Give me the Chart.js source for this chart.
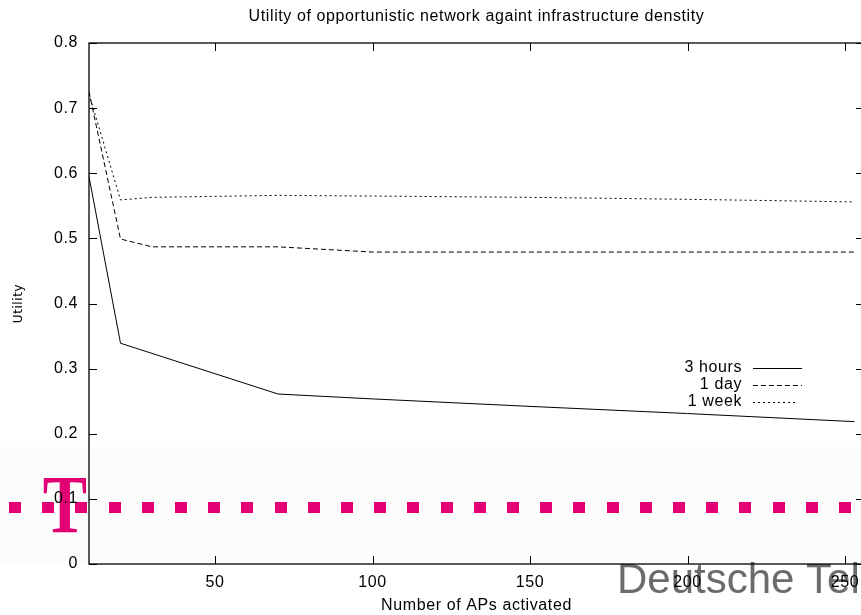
<!DOCTYPE html>
<html>
<head>
<meta charset="utf-8">
<script src="https://cdn.jsdelivr.net/npm/chart.js@4.4.1/dist/chart.umd.min.js"></script>
<style>
  html, body { margin: 0; padding: 0; background: #fff; overflow: hidden; }
  #wrap { width: 880px; height: 615px; }
</style>
</head>
<body>
<div id="wrap"><canvas id="utility" width="880" height="615"></canvas></div>
<script>
// values
var apsActivated = [10, 20, 30, 70, 100, 150, 200, 253];
var threeHours = [0.595, 0.339, null, 0.261, 0.2535, 0.242, 0.231, 0.2186];
var oneDay = [0.725, 0.499, 0.487, 0.487, 0.479, 0.479, 0.479, 0.479];
var oneWeek = [0.722, 0.559, 0.563, 0.566, 0.565, 0.563, 0.560, 0.556];
var xTicks = [50, 100, 150, 200, 250];
var yTicks = [0, 0.1, 0.2, 0.3, 0.4, 0.5, 0.6, 0.7, 0.8];

var titleText = 'Utility of opportunistic network againt infrastructure denstity';
var sansFont = '"Liberation Sans", Arial, sans-serif';
var magenta = '#e20074';
var spacing = '0.6px';

function points(ys) {
    return apsActivated.map(function (x, i) { return { x: x, y: ys[i] }; });
}

// gnuplot's helvetica comes out a little wider than ours
var textSpacing = {
    id: 'textSpacing',
    beforeInit: function (chart) { chart.ctx.letterSpacing = spacing; },
    beforeUpdate: function (chart) { chart.ctx.letterSpacing = spacing; }
};

// faint Deutsche Telekom banner behind the plot
var watermark = {
    id: 'watermark',
    beforeDraw: function (chart) {
        var ctx = chart.ctx;
        ctx.letterSpacing = spacing;
        ctx.save();
        ctx.fillStyle = '#fff';
        ctx.fillRect(0, 0, chart.width, chart.height);
        ctx.fillStyle = '#fcfcfc';
        ctx.fillRect(0, 447, chart.width, 115);
        ctx.fillStyle = magenta;
        for (var k = 0; k < 26; k++) {
            ctx.fillRect(Math.round(9 + 33.2 * k), 502, 12, 11);
        }
        ctx.letterSpacing = '0px';
        ctx.translate(65, 532);
        ctx.scale(0.8, 1);
        ctx.font = 'bold 83px "Liberation Serif", serif';
        ctx.textAlign = 'center';
        ctx.textBaseline = 'alphabetic';
        ctx.fillText('T', 0, 0);
        ctx.restore();

        ctx.save();
        ctx.letterSpacing = '0px';
        ctx.fillStyle = '#6b6b6b';
        ctx.font = '42px ' + sansFont;
        ctx.textBaseline = 'alphabetic';
        ctx.fillText('Deutsche Telekom', 617, 593);
        ctx.restore();
    }
};

// gnuplot style frame, inward ticks, title and key
var frame = {
    id: 'frame',
    afterDraw: function (chart) {
        var ctx = chart.ctx, a = chart.chartArea;
        var xs = chart.scales.x, ys = chart.scales.y;
        var tl = 8;
        ctx.save();
        ctx.strokeStyle = '#000';
        ctx.lineWidth = 1.3;
        ctx.strokeRect(a.left, a.top, a.right - a.left, a.bottom - a.top);
        ctx.lineWidth = 1;
        ctx.beginPath();
        xTicks.forEach(function (v) {
            var px = Math.round(xs.getPixelForValue(v)) + 0.5;
            ctx.moveTo(px, a.bottom); ctx.lineTo(px, a.bottom - tl);
            ctx.moveTo(px, a.top); ctx.lineTo(px, a.top + tl);
        });
        yTicks.forEach(function (v) {
            var py = Math.round(ys.getPixelForValue(v)) + 0.5;
            ctx.moveTo(a.left, py); ctx.lineTo(a.left + tl, py);
            ctx.moveTo(a.right, py); ctx.lineTo(a.right - tl, py);
        });
        ctx.stroke();

        ctx.fillStyle = '#000';
        ctx.font = '16px ' + sansFont;
        ctx.textAlign = 'center';
        ctx.textBaseline = 'middle';
        ctx.fillText(titleText, (a.left + a.right) / 2, 17);

        // key
        ctx.textAlign = 'right';
        chart.data.datasets.forEach(function (ds, i) {
            var y = 368 + i * 17;
            ctx.fillText(ds.label, 742, y);
            ctx.beginPath();
            ctx.setLineDash(ds.borderDash || []);
            ctx.strokeStyle = ds.borderColor;
            ctx.lineWidth = ds.borderWidth;
            ctx.moveTo(753, y + 0.5);
            ctx.lineTo(i === 2 ? 798 : 802, y + 0.5);
            ctx.stroke();
        });
        ctx.restore();
    }
};

var ctx = document.getElementById('utility').getContext('2d');
var chart = new Chart(ctx, {
    type: 'line',
    data: {
        datasets: [{
            label: '3 hours',
            data: points(threeHours),
            borderColor: '#000',
            borderWidth: 1,
            spanGaps: true
        }, {
            label: '1 day',
            data: points(oneDay),
            borderColor: '#000',
            borderWidth: 1,
            borderDash: [5, 3]
        }, {
            label: '1 week',
            data: points(oneWeek),
            borderColor: '#000',
            borderWidth: 1,
            borderDash: [2, 3]
        }]
    },
    options: {
        responsive: false,
        animation: false,
        layout: { padding: { top: 43, right: 16, left: 0, bottom: 0 } },
        elements: { point: { radius: 0 }, line: { tension: 0 } },
        plugins: {
            legend: { display: false },
            title: { display: false },
            tooltip: { enabled: false }
        },
        scales: {
            x: {
                type: 'linear',
                min: 10,
                max: 256,
                grid: { display: false, drawTicks: false },
                border: { display: false },
                afterBuildTicks: function (scale) {
                    scale.ticks = xTicks.map(function (v) { return { value: v }; });
                },
                afterFit: function (scale) { scale.height = 51; },
                ticks: {
                    color: '#000',
                    padding: 9,
                    maxRotation: 0,
                    font: { family: sansFont, size: 16 }
                },
                title: {
                    display: true,
                    text: 'Number of APs activated',
                    color: '#000',
                    padding: { top: 0, bottom: 0 },
                    font: { family: sansFont, size: 16 }
                }
            },
            y: {
                type: 'linear',
                min: 0,
                max: 0.8,
                grid: { display: false, drawTicks: false },
                border: { display: false },
                afterBuildTicks: function (scale) {
                    scale.ticks = yTicks.map(function (v) { return { value: v }; });
                },
                afterFit: function (scale) { scale.width = 89; },
                ticks: {
                    color: '#000',
                    padding: 11,
                    font: { family: sansFont, size: 16 },
                    callback: function (v) { return String(Math.round(v * 10) / 10); }
                },
                title: {
                    display: true,
                    text: 'Utility',
                    color: '#000',
                    padding: { top: 12, bottom: 0 },
                    font: { family: '"DejaVu Sans", sans-serif', size: 12 }
                }
            }
        }
    },
    plugins: [textSpacing, watermark, frame]
});
</script>
</body>
</html>
